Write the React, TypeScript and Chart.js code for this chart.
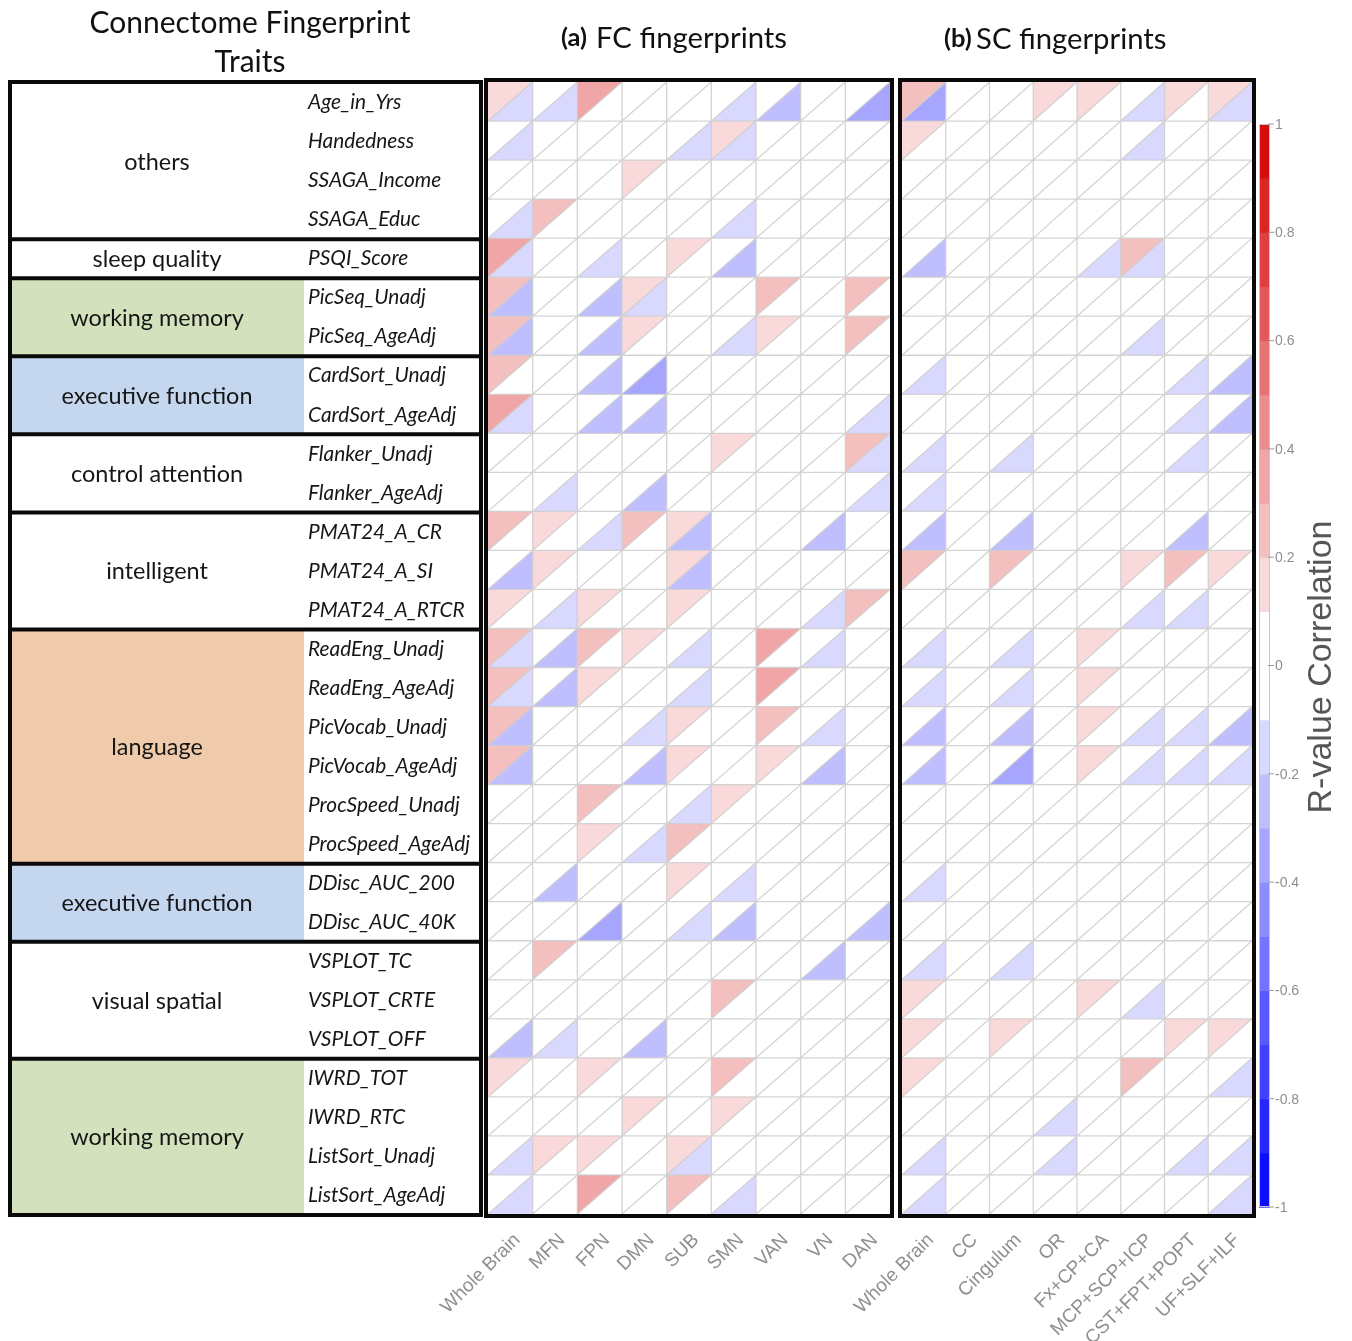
import React, { useEffect, useRef } from "react";
import { Chart, registerables } from "chart.js";

Chart.register(...registerables);

// ---------------- data ----------------
const traitNames = [
  "Age_in_Yrs", "Handedness", "SSAGA_Income", "SSAGA_Educ", "PSQI_Score",
  "PicSeq_Unadj", "PicSeq_AgeAdj", "CardSort_Unadj", "CardSort_AgeAdj",
  "Flanker_Unadj", "Flanker_AgeAdj", "PMAT24_A_CR", "PMAT24_A_SI", "PMAT24_A_RTCR",
  "ReadEng_Unadj", "ReadEng_AgeAdj", "PicVocab_Unadj", "PicVocab_AgeAdj",
  "ProcSpeed_Unadj", "ProcSpeed_AgeAdj", "DDisc_AUC_200", "DDisc_AUC_40K",
  "VSPLOT_TC", "VSPLOT_CRTE", "VSPLOT_OFF", "IWRD_TOT", "IWRD_RTC",
  "ListSort_Unadj", "ListSort_AgeAdj",
];

const groupNames = [
  "others", "sleep quality", "working memory", "executive function", "control attention",
  "intelligent", "language", "executive function", "visual spatial", "working memory",
];
const groupSizes = [4, 1, 2, 2, 2, 3, 6, 2, 3, 4];
const groupFills = [
  "#ffffff", "#ffffff", "#d3e1bc", "#c5d7ee", "#ffffff",
  "#ffffff", "#efcbab", "#c5d7ee", "#ffffff", "#d3e1bc",
];

const fcRegions = ["Whole Brain", "MFN", "FPN", "DMN", "SUB", "SMN", "VAN", "VN", "DAN"];
const scTracts = ["Whole Brain", "CC", "Cingulum", "OR", "Fx+CP+CA", "MCP+SCP+ICP", "CST+FPT+POPT", "UF+SLF+ILF"];

// upper-left triangle values (FC)
const fcUpper = [
  [0.15, 0, 0.35, 0, 0, 0, 0, 0, 0],
  [0, 0, 0, 0, 0, 0.15, 0, 0, 0],
  [0, 0, 0, 0.15, 0, 0, 0, 0, 0],
  [0, 0.25, 0, 0, 0, 0, 0, 0, 0],
  [0.35, 0, 0, 0, 0.15, 0, 0, 0, 0],
  [0.25, 0, 0, 0.15, 0, 0, 0.25, 0, 0.25],
  [0.25, 0, 0, 0.15, 0, 0, 0.15, 0, 0.25],
  [0.25, 0, 0, 0, 0, 0, 0, 0, 0],
  [0.35, 0, 0, 0, 0, 0, 0, 0, 0],
  [0, 0, 0, 0, 0, 0.15, 0, 0, 0.25],
  [0, 0, 0, 0, 0, 0, 0, 0, 0],
  [0.25, 0.15, 0, 0.25, 0.15, 0, 0, 0, 0],
  [0, 0.15, 0, 0, 0.15, 0, 0, 0, 0],
  [0.15, 0, 0.15, 0, 0.15, 0, 0, 0, 0.25],
  [0.25, 0, 0.25, 0.15, 0, 0, 0.35, 0, 0],
  [0.25, 0, 0.15, 0, 0, 0, 0.35, 0, 0],
  [0.25, 0, 0, 0, 0.15, 0, 0.25, 0, 0],
  [0.25, 0, 0, 0, 0.15, 0, 0.15, 0, 0],
  [0, 0, 0.25, 0, 0, 0.15, 0, 0, 0],
  [0, 0, 0.15, 0, 0.25, 0, 0, 0, 0],
  [0, 0, 0, 0, 0.15, 0, 0, 0, 0],
  [0, 0, 0, 0, 0, 0, 0, 0, 0],
  [0, 0.25, 0, 0, 0, 0, 0, 0, 0],
  [0, 0, 0, 0, 0, 0.25, 0, 0, 0],
  [0, 0, 0, 0, 0, 0, 0, 0, 0],
  [0.15, 0, 0.15, 0, 0, 0.25, 0, 0, 0],
  [0, 0, 0, 0.15, 0, 0.15, 0, 0, 0],
  [0, 0.15, 0.15, 0, 0.15, 0, 0, 0, 0],
  [0, 0, 0.35, 0, 0.25, 0, 0, 0, 0],
];

// lower-right triangle values (FC)
const fcLower = [
  [-0.15, -0.15, 0, 0, 0, -0.15, -0.25, 0, -0.35],
  [-0.15, 0, 0, 0, -0.15, -0.15, 0, 0, 0],
  [0, 0, 0, 0, 0, 0, 0, 0, 0],
  [-0.15, 0, 0, 0, 0, -0.15, 0, 0, 0],
  [-0.15, 0, -0.15, 0, 0, -0.25, 0, 0, 0],
  [-0.25, 0, -0.25, -0.15, 0, 0, 0, 0, 0],
  [-0.25, 0, -0.25, 0, 0, -0.15, 0, 0, 0],
  [0, 0, -0.25, -0.35, 0, 0, 0, 0, 0],
  [-0.15, 0, -0.25, -0.25, 0, 0, 0, 0, -0.15],
  [0, 0, 0, 0, 0, 0, 0, 0, -0.15],
  [0, -0.15, 0, -0.25, 0, 0, 0, 0, -0.15],
  [0, 0, -0.15, 0, -0.25, 0, 0, -0.25, 0],
  [-0.25, 0, 0, 0, -0.25, 0, 0, 0, 0],
  [0, -0.15, 0, 0, 0, 0, 0, -0.15, 0],
  [-0.15, -0.25, 0, 0, -0.15, 0, 0, -0.15, 0],
  [-0.15, -0.25, 0, 0, -0.15, 0, 0, 0, 0],
  [-0.25, 0, 0, -0.15, 0, 0, 0, -0.15, 0],
  [-0.25, 0, 0, -0.25, 0, 0, 0, -0.25, 0],
  [0, 0, 0, 0, -0.15, 0, 0, 0, 0],
  [0, 0, 0, -0.15, 0, 0, 0, 0, 0],
  [0, -0.25, 0, 0, 0, -0.15, 0, 0, 0],
  [0, 0, -0.35, 0, -0.15, -0.25, 0, 0, -0.25],
  [0, 0, 0, 0, 0, 0, 0, -0.25, 0],
  [0, 0, 0, 0, 0, 0, 0, 0, 0],
  [-0.25, -0.15, 0, -0.25, 0, 0, 0, 0, 0],
  [0, 0, 0, 0, 0, 0, 0, 0, 0],
  [0, 0, 0, 0, 0, 0, 0, 0, 0],
  [-0.15, 0, 0, 0, -0.15, 0, 0, 0, 0],
  [-0.15, 0, 0, 0, 0, -0.15, 0, 0, 0],
];

// upper-left triangle values (SC)
const scUpper = [
  [0.25, 0, 0, 0.15, 0.15, 0, 0.15, 0.15],
  [0.15, 0, 0, 0, 0, 0, 0, 0],
  [0, 0, 0, 0, 0, 0, 0, 0],
  [0, 0, 0, 0, 0, 0, 0, 0],
  [0, 0, 0, 0, 0, 0.25, 0, 0],
  [0, 0, 0, 0, 0, 0, 0, 0],
  [0, 0, 0, 0, 0, 0, 0, 0],
  [0, 0, 0, 0, 0, 0, 0, 0],
  [0, 0, 0, 0, 0, 0, 0, 0],
  [0, 0, 0, 0, 0, 0, 0, 0],
  [0, 0, 0, 0, 0, 0, 0, 0],
  [0, 0, 0, 0, 0, 0, 0, 0],
  [0.25, 0, 0.25, 0, 0, 0.15, 0.25, 0.15],
  [0, 0, 0, 0, 0, 0, 0, 0],
  [0, 0, 0, 0, 0.15, 0, 0, 0],
  [0, 0, 0, 0, 0.15, 0, 0, 0],
  [0, 0, 0, 0, 0.15, 0, 0, 0],
  [0, 0, 0, 0, 0.15, 0, 0, 0],
  [0, 0, 0, 0, 0, 0, 0, 0],
  [0, 0, 0, 0, 0, 0, 0, 0],
  [0, 0, 0, 0, 0, 0, 0, 0],
  [0, 0, 0, 0, 0, 0, 0, 0],
  [0, 0, 0, 0, 0, 0, 0, 0],
  [0.15, 0, 0, 0, 0.15, 0, 0, 0],
  [0.15, 0, 0.15, 0, 0, 0, 0.15, 0.15],
  [0.15, 0, 0, 0, 0, 0.25, 0, 0],
  [0, 0, 0, 0, 0, 0, 0, 0],
  [0, 0, 0, 0, 0, 0, 0, 0],
  [0, 0, 0, 0, 0, 0, 0, 0],
];

// lower-right triangle values (SC)
const scLower = [
  [-0.35, 0, 0, 0, 0, -0.15, 0, -0.15],
  [0, 0, 0, 0, 0, -0.15, 0, 0],
  [0, 0, 0, 0, 0, 0, 0, 0],
  [0, 0, 0, 0, 0, 0, 0, 0],
  [-0.25, 0, 0, 0, -0.15, -0.15, 0, 0],
  [0, 0, 0, 0, 0, 0, 0, 0],
  [0, 0, 0, 0, 0, -0.15, 0, 0],
  [-0.15, 0, 0, 0, 0, 0, -0.15, -0.25],
  [0, 0, 0, 0, 0, 0, -0.15, -0.25],
  [-0.15, 0, -0.15, 0, 0, 0, -0.15, 0],
  [-0.15, 0, 0, 0, 0, 0, 0, 0],
  [-0.25, 0, -0.25, 0, 0, 0, -0.25, 0],
  [0, 0, 0, 0, 0, 0, 0, 0],
  [0, 0, 0, 0, 0, -0.15, -0.15, 0],
  [-0.15, 0, -0.15, 0, 0, 0, 0, 0],
  [-0.15, 0, -0.15, 0, 0, 0, 0, 0],
  [-0.25, 0, -0.25, 0, 0, -0.15, -0.15, -0.25],
  [-0.25, 0, -0.35, 0, 0, -0.15, -0.15, -0.15],
  [0, 0, 0, 0, 0, 0, 0, 0],
  [0, 0, 0, 0, 0, 0, 0, 0],
  [-0.15, 0, 0, 0, 0, 0, 0, 0],
  [0, 0, 0, 0, 0, 0, 0, 0],
  [-0.15, 0, -0.15, 0, 0, 0, 0, 0],
  [0, 0, 0, 0, 0, -0.15, 0, 0],
  [0, 0, 0, 0, 0, 0, 0, 0],
  [0, 0, 0, 0, 0, 0, 0, -0.15],
  [0, 0, 0, -0.15, 0, 0, 0, 0],
  [-0.15, 0, 0, -0.15, 0, 0, -0.15, -0.15],
  [-0.15, 0, 0, 0, 0, 0, 0, -0.15],
];

const colorbarTicks = [1, 0.8, 0.6, 0.4, 0.2, 0, -0.2, -0.4, -0.6, -0.8, -1];
const colorbarTickLabels = ["1", "0.8", "0.6", "0.4", "0.2", "0", "-0.2", "-0.4", "-0.6", "-0.8", "-1"];

// ---------------- helpers ----------------
const CAL = 'Lato, "Open Sans", sans-serif';
const ARIAL = '"Liberation Sans", Arial, sans-serif';

function rColor(v: number): string {
  const a = Math.abs(v);
  if (a < 0.1) return "#ffffff";
  const band = Math.min(9, Math.floor(a * 10 + 1e-9));
  const t = (band + 0.5) / 10;
  if (v > 0) {
    const r = Math.round(255 + (212 - 255) * t);
    const g = Math.round(255 * (1 - t));
    return `rgb(${r},${g},${g})`;
  }
  const c = Math.round(255 * (1 - t));
  return `rgb(${c},${c},255)`;
}

function fitSize(ctx: CanvasRenderingContext2D, style: string, family: string, ref: string, target: number): number {
  ctx.font = `${style} 40px ${family}`;
  const w = ctx.measureText(ref).width || 1;
  return (40 * target) / w;
}

function drawPanel(ctx: CanvasRenderingContext2D, xs: any, ys: any, upper: number[][], lower: number[][], nCols: number) {
  const nRows = upper.length;
  // triangles
  for (let r = 0; r < nRows; r++) {
    for (let c = 0; c < nCols; c++) {
      const x0 = xs.getPixelForValue(c), x1 = xs.getPixelForValue(c + 1);
      const y0 = ys.getPixelForValue(r), y1 = ys.getPixelForValue(r + 1);
      const u = upper[r][c], l = lower[r][c];
      if (Math.abs(u) >= 0.1) {
        ctx.fillStyle = rColor(u);
        ctx.beginPath();
        ctx.moveTo(x0, y0); ctx.lineTo(x1, y0); ctx.lineTo(x0, y1); ctx.closePath();
        ctx.fill();
      }
      if (Math.abs(l) >= 0.1) {
        ctx.fillStyle = rColor(l);
        ctx.beginPath();
        ctx.moveTo(x1, y0); ctx.lineTo(x1, y1); ctx.lineTo(x0, y1); ctx.closePath();
        ctx.fill();
      }
    }
  }
  // grid
  ctx.strokeStyle = "rgba(205,205,205,0.85)";
  ctx.lineWidth = 1.3;
  ctx.beginPath();
  for (let c = 1; c < nCols; c++) {
    const x = xs.getPixelForValue(c);
    ctx.moveTo(x, ys.getPixelForValue(0)); ctx.lineTo(x, ys.getPixelForValue(nRows));
  }
  for (let r = 1; r < nRows; r++) {
    const y = ys.getPixelForValue(r);
    ctx.moveTo(xs.getPixelForValue(0), y); ctx.lineTo(xs.getPixelForValue(nCols), y);
  }
  for (let r = 0; r < nRows; r++) {
    for (let c = 0; c < nCols; c++) {
      ctx.moveTo(xs.getPixelForValue(c), ys.getPixelForValue(r + 1));
      ctx.lineTo(xs.getPixelForValue(c + 1), ys.getPixelForValue(r));
    }
  }
  ctx.stroke();
  // frame
  ctx.strokeStyle = "#0a0a0a";
  ctx.lineWidth = 4;
  const L = xs.getPixelForValue(0) - 2, R = xs.getPixelForValue(nCols) + 2;
  const T = ys.getPixelForValue(0) - 2, B = ys.getPixelForValue(nRows) + 2;
  ctx.strokeRect(L, T, R - L, B - T);
}

function drawXLabels(ctx: CanvasRenderingContext2D, xs: any, labels: string[]) {
  ctx.save();
  ctx.font = `19px ${ARIAL}`;
  ctx.fillStyle = "#8f8f8f";
  ctx.textAlign = "right";
  ctx.textBaseline = "middle";
  labels.forEach((lab, i) => {
    const cx = xs.getPixelForValue(i + 0.5);
    ctx.save();
    ctx.translate(cx + 7, 1237);
    ctx.rotate(-Math.PI / 4);
    ctx.fillText(lab, 0, 0);
    ctx.restore();
  });
  ctx.restore();
}

function drawTable(ctx: CanvasRenderingContext2D, ys: any) {
  const L = 10, M = 304, R = 481;
  let start = 0;
  const bounds: number[] = [0];
  groupSizes.forEach((n, i) => {
    const y0 = ys.getPixelForValue(start), y1 = ys.getPixelForValue(start + n);
    ctx.fillStyle = groupFills[i];
    ctx.fillRect(L, y0, M - L, y1 - y0);
    start += n;
    bounds.push(start);
  });
  // group labels
  const gSize = fitSize(ctx, "", CAL, "executive function", 191);
  ctx.font = `${gSize}px ${CAL}`;
  ctx.fillStyle = "#161616";
  ctx.textAlign = "center";
  ctx.textBaseline = "middle";
  start = 0;
  groupSizes.forEach((n, i) => {
    const yc = (ys.getPixelForValue(start) + ys.getPixelForValue(start + n)) / 2;
    ctx.fillText(groupNames[i], (L + M) / 2, yc + 2);
    start += n;
  });
  // trait names
  const tSize = fitSize(ctx, "italic", CAL, "ProcSpeed_AgeAdj", 162);
  ctx.font = `italic ${tSize}px ${CAL}`;
  ctx.textAlign = "left";
  traitNames.forEach((t, r) => {
    ctx.fillText(t, 308, ys.getPixelForValue(r + 0.5) + 1);
  });
  // lines
  ctx.strokeStyle = "#0a0a0a";
  ctx.lineWidth = 4;
  ctx.beginPath();
  bounds.forEach((b) => {
    const y = ys.getPixelForValue(b) + (b === 0 ? 0 : 1);
    ctx.moveTo(L - 2, y); ctx.lineTo(R + 2, y);
  });
  ctx.moveTo(L, ys.getPixelForValue(0)); ctx.lineTo(L, ys.getPixelForValue(29) + 1);
  ctx.moveTo(R, ys.getPixelForValue(0)); ctx.lineTo(R, ys.getPixelForValue(29) + 1);
  ctx.stroke();
}

function drawColorbar(ctx: CanvasRenderingContext2D, yc: any) {
  const x0 = 1259, x1 = 1270;
  for (let k = -10; k < 10; k++) {
    const lo = k / 10, hi = (k + 1) / 10;
    const yt = yc.getPixelForValue(hi), yb = yc.getPixelForValue(lo);
    ctx.fillStyle = rColor((lo + hi) / 2);
    ctx.fillRect(x0, yt, x1 - x0, yb - yt + 0.6);
  }
  ctx.strokeStyle = "#c8c8c8";
  ctx.lineWidth = 1;
  ctx.strokeRect(x0 + 0.5, yc.getPixelForValue(1) + 0.5, x1 - x0 - 1, yc.getPixelForValue(-1) - yc.getPixelForValue(1) - 1);
  ctx.font = `14px ${ARIAL}`;
  ctx.fillStyle = "#8f8f8f";
  ctx.textAlign = "left";
  ctx.textBaseline = "middle";
  ctx.strokeStyle = "#9a9a9a";
  colorbarTicks.forEach((t, i) => {
    const y = yc.getPixelForValue(t);
    ctx.beginPath();
    ctx.moveTo(x1 - 2, y); ctx.lineTo(x1 + 4, y);
    ctx.stroke();
    ctx.fillText(colorbarTickLabels[i], x1 + 5, y + 1);
  });
  ctx.save();
  ctx.translate(1322, 667);
  ctx.rotate(-Math.PI / 2);
  ctx.font = `34px ${ARIAL}`;
  ctx.fillStyle = "#565656";
  ctx.textAlign = "center";
  ctx.textBaseline = "middle";
  ctx.fillText("R-value Correlation", 0, 0);
  ctx.restore();
}

function drawTitles(ctx: CanvasRenderingContext2D) {
  const s = fitSize(ctx, "", CAL, "Connectome Fingerprint", 321);
  ctx.font = `${s}px ${CAL}`;
  ctx.fillStyle = "#111";
  ctx.textAlign = "center";
  ctx.textBaseline = "middle";
  ctx.fillText("Connectome Fingerprint", 250, 23);
  ctx.fillText("Traits", 250, 62);
  const p = fitSize(ctx, "", CAL, "FC fingerprints", 191);
  const b = fitSize(ctx, "bold", CAL, "(a)", 26);
  ctx.textAlign = "left";
  ctx.font = `bold ${b}px ${CAL}`;
  ctx.fillText("(a)", 561, 38);
  ctx.fillText("(b)", 944, 39);
  ctx.font = `${p}px ${CAL}`;
  ctx.fillText("FC fingerprints", 596, 39);
  ctx.fillText("SC fingerprints", 976, 40);
}

const fingerprintPlugin = {
  id: "fingerprint",
  beforeDraw(chart: any) {
    const ctx = chart.ctx;
    ctx.save();
    ctx.fillStyle = "#ffffff";
    ctx.fillRect(0, 0, chart.width, chart.height);
    ctx.restore();
  },
  afterDraw(chart: any) {
    const ctx: CanvasRenderingContext2D = chart.ctx;
    const { xFC, xSC, y, ycb } = chart.scales;
    ctx.save();
    drawTable(ctx, y);
    drawPanel(ctx, xFC, y, fcUpper, fcLower, fcRegions.length);
    drawPanel(ctx, xSC, y, scUpper, scLower, scTracts.length);
    drawXLabels(ctx, xFC, fcRegions);
    drawXLabels(ctx, xSC, scTracts);
    drawColorbar(ctx, ycb);
    drawTitles(ctx);
    ctx.restore();
  },
};

export default function App() {
  const ref = useRef<HTMLCanvasElement | null>(null);
  useEffect(() => {
    document.body.style.margin = "0";
    const canvas = ref.current;
    if (!canvas) return;
    const fcPts: any[] = [];
    const scPts: any[] = [];
    traitNames.forEach((_, r) => {
      fcRegions.forEach((_, c) => fcPts.push({ x: c + 0.5, y: r + 0.5, u: fcUpper[r][c], l: fcLower[r][c] }));
      scTracts.forEach((_, c) => scPts.push({ x: c + 0.5, y: r + 0.5, u: scUpper[r][c], l: scLower[r][c] }));
    });
    const chart = new Chart(canvas, {
      type: "scatter",
      data: {
        datasets: [
          { label: "FC fingerprints", data: fcPts, xAxisID: "xFC", yAxisID: "y", pointRadius: 0 } as any,
          { label: "SC fingerprints", data: scPts, xAxisID: "xSC", yAxisID: "y", pointRadius: 0 } as any,
        ],
      },
      options: {
        responsive: false,
        animation: false,
        devicePixelRatio: 1,
        events: [],
        layout: { padding: { left: 488, right: 100, top: 82, bottom: 127 } },
        plugins: { legend: { display: false }, tooltip: { enabled: false }, title: { display: false } },
        scales: {
          xFC: { type: "linear", position: "bottom", min: 0, max: 17.104, display: false },
          xSC: { type: "linear", position: "bottom", min: -9.4629, max: 8, display: false },
          y: { type: "linear", position: "left", min: 0, max: 29, reverse: true, display: false },
          ycb: { type: "linear", position: "right", min: -1.0129, max: 1.0776, display: false },
        },
      } as any,
      plugins: [fingerprintPlugin],
    });
    let alive = true;
    const fonts = (document as any).fonts;
    if (fonts && fonts.load) {
      Promise.all([
        fonts.load(`20px Lato`),
        fonts.load(`italic 20px Lato`),
        fonts.load(`bold 20px Lato`),
        fonts.load(`20px "Liberation Sans"`),
      ]).then(() => { if (alive) chart.update(); }).catch(() => {});
    }
    return () => { alive = false; chart.destroy(); };
  }, []);
  return <canvas ref={ref} width={1352} height={1341} style={{ display: "block" }} />;
}
